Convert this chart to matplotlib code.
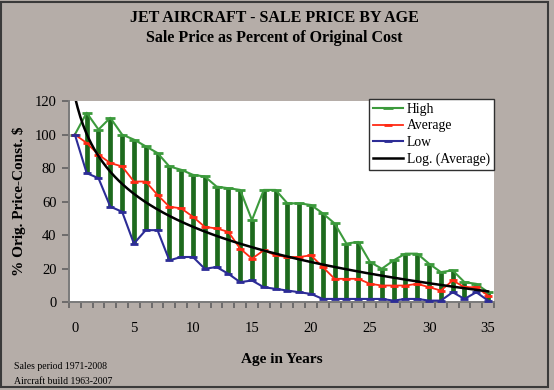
import numpy as np
import matplotlib
matplotlib.use("Agg")
import matplotlib.pyplot as plt
from matplotlib.patches import Rectangle

plt.rcParams['font.family'] = ['Liberation Serif', 'DejaVu Serif']

##---- Data ----##

ages = np.arange(0, 36)

high = [100, 113, 103, 110, 100, 97, 93, 89, 81, 79, 76, 75,
        69, 68, 67, 49, 67, 67, 59, 59, 58, 53, 47, 35,
        36, 24, 20, 25, 29, 29, 23, 18, 19, 12, 11, 6]

average = [100, 95, 88, 83, 81, 72, 72, 64, 57, 56, 51, 45,
           44, 42, 32, 26, 31, 28, 27, 27, 28, 21, 14, 14,
           14, 11, 10, 10, 10, 11, 9, 7, 13, 9, 9, 4]

low = [100, 77, 74, 57, 54, 35, 43, 43, 25, 27, 27, 20,
       21, 17, 12, 13, 9, 8, 7, 6, 5, 2, 2, 2,
       2, 2, 2, 1, 2, 2, 1, 1, 6, 2, 6, 1]

x_labels = [0, 5, 10, 15, 20, 25, 30, 35]
y_ticks = [0, 20, 40, 60, 80, 100, 120]

##---- Log trendline (Excel style, x = 1..36) ----##

xcat = ages + 1
b, a = np.polyfit(np.log(xcat), average, 1)
xs = np.linspace(1, 36, 300)
trend = a + b * np.log(xs)

##---- Figure ----##

bg = '#b5ada8'
fig = plt.figure(figsize=(5.54, 3.90), dpi=100, facecolor=bg)
fig.patches.append(Rectangle((0.002, 0.008), 0.988, 0.988, transform=fig.transFigure,
                             fill=False, edgecolor='#3a3a3a', linewidth=1.5))

ax = fig.add_axes([0.1245, 0.2249, 0.7672, 0.5161])
ax.set_facecolor('white')

# high-low bars
ax.vlines(ages, low, high, color='#1d6a1d', linewidth=3.4, zorder=2)

ax.plot(ages, high, color='#3c9a3c', linewidth=1.5, marker='_', markersize=7,
        markeredgewidth=2, label='High', zorder=3)
ax.plot(ages, average, color='#ff2a14', linewidth=1.3, marker='_', markersize=6,
        markeredgewidth=2, label='Average', zorder=4)
ax.plot(ages, low, color='#2c2c96', linewidth=1.5, marker='_', markersize=6,
        markeredgewidth=2, label='Low', zorder=4)
ax.plot(xs - 1, trend, color='black', linewidth=1.8, label='Log. (Average)', zorder=5)

ax.set_xlim(-0.5, 35.5)
ax.set_ylim(0, 120)
ax.set_yticks(y_ticks)
ax.set_xticks(x_labels)
ax.set_xticks(np.arange(-0.5, 36, 1), minor=True)
ax.tick_params(axis='x', which='major', length=0, pad=14, labelsize=10.5)
ax.tick_params(axis='x', which='minor', length=4, color='#606060', width=1.2, direction='out')
ax.tick_params(axis='y', length=5, color='#606060', width=1.2, labelsize=10.5, pad=4)

for s in ['top', 'right']:
    ax.spines[s].set_visible(False)
for s in ['left', 'bottom']:
    ax.spines[s].set_color('#7a7a7a')
    ax.spines[s].set_linewidth(1.4)

ax.set_xlabel('Age in Years', fontsize=11, fontweight='bold', labelpad=13)
ax.set_ylabel('% Orig. Price-Const. $', fontsize=11, fontweight='bold', labelpad=6)

leg = ax.legend(loc='upper right', bbox_to_anchor=(1.0, 1.01), fontsize=9.8, frameon=True,
                fancybox=False, edgecolor='#303030', framealpha=1, borderpad=0.3,
                labelspacing=0.25, handlelength=2.2, handletextpad=0.3, borderaxespad=0)
leg.get_frame().set_linewidth(1.0)

fig.text(0.495, 0.955, 'JET AIRCRAFT - SALE PRICE BY AGE', ha='center', va='center',
         fontsize=11.5, fontweight='bold')
fig.text(0.495, 0.902, 'Sale Price as Percent of Original Cost', ha='center', va='center',
         fontsize=11.5, fontweight='bold')

fig.text(0.025, 0.06, 'Sales period 1971-2008', ha='left', va='center', fontsize=7)
fig.text(0.025, 0.023, 'Aircraft build 1963-2007', ha='left', va='center', fontsize=7)

fig.savefig('out.png', dpi=100, facecolor=bg)
